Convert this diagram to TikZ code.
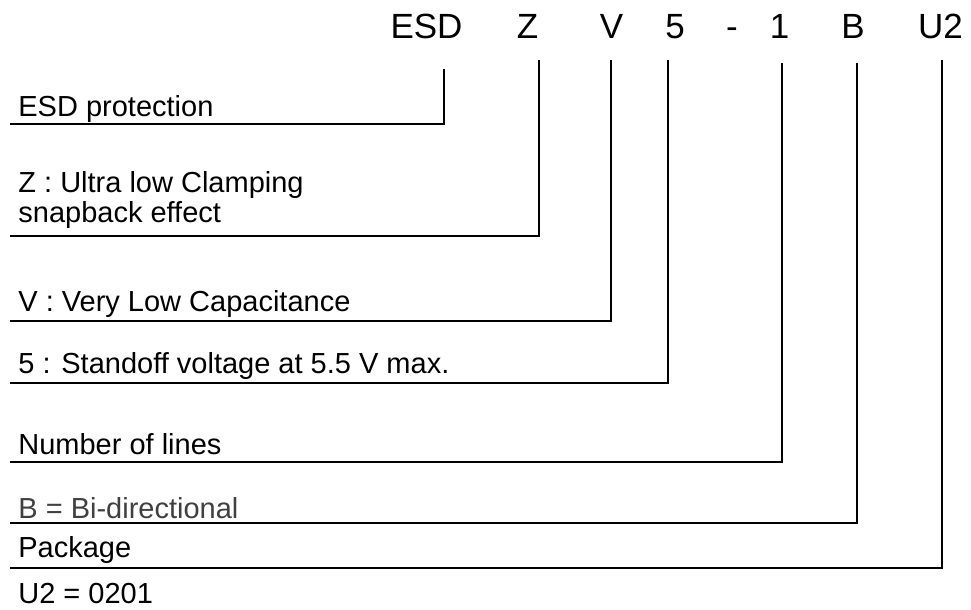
\documentclass[tikz,border=0pt]{standalone}
\usepackage{fontspec}
\setmainfont{Liberation Sans}
\usetikzlibrary{positioning}

\begin{document}
\begin{tikzpicture}[x=0.5pt, y=-0.5pt,
    code/.style={font=\fontsize{17.5}{21}\selectfont, inner sep=0pt, anchor=base},
    desc/.style={font=\fontsize{14.5}{17.5}\selectfont, inner sep=0pt, anchor=base west},
    lead/.style={line width=0.75pt}]
    \useasboundingbox (0,0) rectangle (971,610);

    \node (ESD) [code] at (426.5,39) {ESD};
    \node (Z) [code] at (527.5,39) {Z};
    \node (V) [code] at (611.5,39) {V};
    \node (five) [code] at (675,39) {5};
    \node (dash) [code] at (732,39) {-};
    \node (one) [code] at (779.5,39) {1};
    \node (B) [code] at (853,39) {B};
    \node (U) [code] at (940.5,39) {U2};

    \node (esdtxt) [desc] at (18,117) {ESD protection};
    \node (ztxt) [desc] at (18,193) {Z : Ultra low Clamping};
    \node (ztxtb) [desc] at (18,223) {snapback effect};
    \node (vtxt) [desc] at (18,312) {V : Very Low Capacitance};
    \node (fivetxt) [desc] at (18,373) {5 : Standoff voltage at 5.5 V max.};
    \node (onetxt) [desc] at (18,454) {Number of lines};
    \node (btxt) [desc, text=black!75] at (18,518) {B = Bi-directional};
    \node (utxt) [desc] at (18,557) {Package};
    \node (utxtb) [desc] at (18,603) {U2 = 0201};

    \coordinate (esdtop) at (444,69);   \coordinate (esdend) at (10,124);
    \coordinate (ztop) at (539,60);     \coordinate (zend) at (10,236);
    \coordinate (vtop) at (611,60);     \coordinate (vend) at (10,321);
    \coordinate (fivetop) at (668,60);  \coordinate (fiveend) at (10,383);
    \coordinate (onetop) at (782,63);   \coordinate (oneend) at (10,462);
    \coordinate (btop) at (857,63);     \coordinate (bend) at (10,523);
    \coordinate (utop) at (942,60);     \coordinate (uend) at (10,568);

    \draw [lead] (esdend) -| (esdtop);
    \draw [lead] (zend) -| (ztop);
    \draw [lead] (vend) -| (vtop);
    \draw [lead] (fiveend) -| (fivetop);
    \draw [lead] (oneend) -| (onetop);
    \draw [lead] (bend) -| (btop);
    \draw [lead] (uend) -| (utop);
\end{tikzpicture}
\end{document}
